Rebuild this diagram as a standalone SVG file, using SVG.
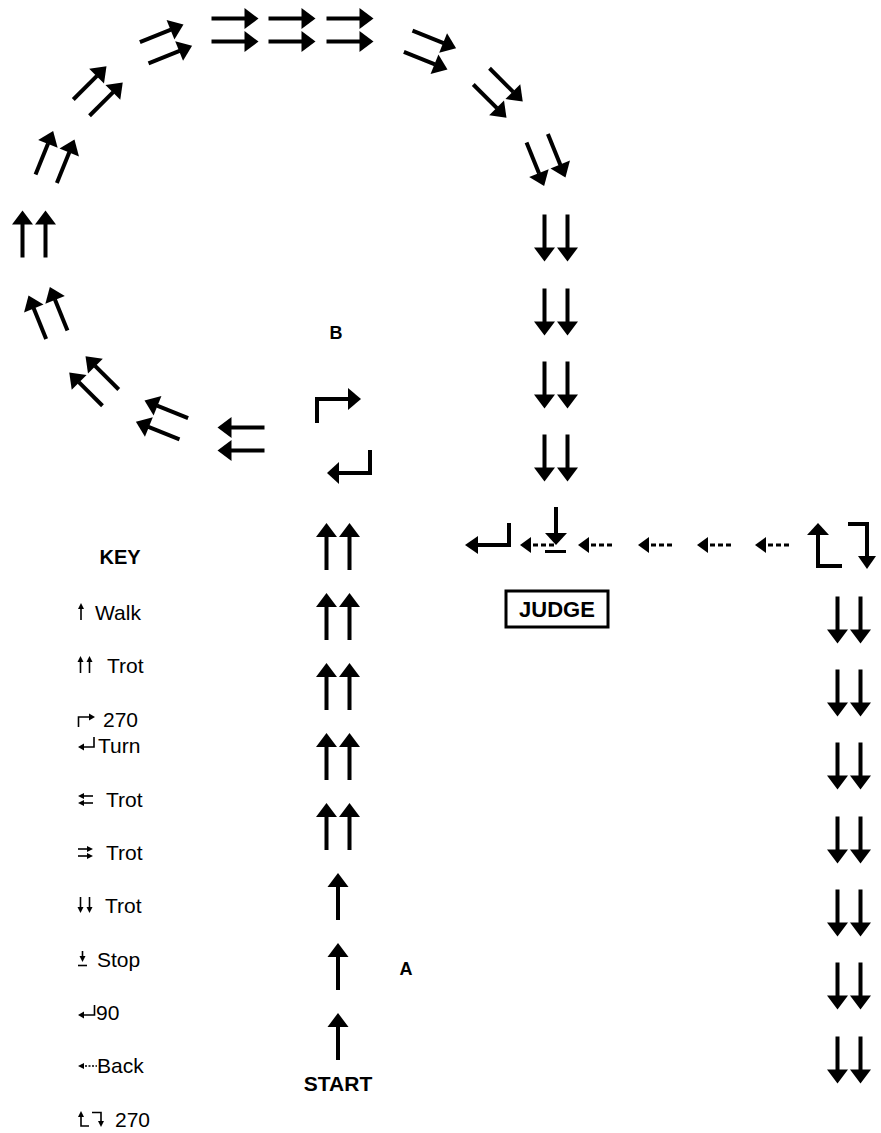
<svg xmlns="http://www.w3.org/2000/svg" xmlns:xlink="http://www.w3.org/1999/xlink" width="881" height="1133" viewBox="0 0 881 1133">
<style>
.lbl{font-family:"Liberation Sans",Arial,sans-serif;font-weight:bold;fill:#000}
.key{font-family:"Liberation Sans",Arial,sans-serif;font-size:21px;fill:#000}
.ln{stroke:#000;stroke-width:4;fill:none}
.thin{stroke:#000;stroke-width:1.6;fill:none}
.hd{fill:#000}
.dash{stroke:#000;stroke-width:3;stroke-dasharray:5 3;fill:none}
.tdash{stroke:#000;stroke-width:1.3;stroke-dasharray:2 1.5;fill:none}
</style>
<defs>
<g id="a1"><rect x="-2" y="-10" width="4" height="33.5"/><polygon points="0,-23.5 -10.5,-9.5 10.5,-9.5"/></g>
<g id="a2"><use href="#a1" x="-11.5"/><use href="#a1" x="11.5"/></g>
<g id="back"><polygon points="0,0 11,-8 11,8"/><line x1="13" y1="0" x2="36" y2="0" class="dash"/></g>
</defs>
<rect width="881" height="1133" fill="#fff"/>

<g id="arc">
<use href="#a2" transform="translate(241,439) rotate(-90)"/>
<use href="#a2" transform="translate(162,420) rotate(-68)"/>
<use href="#a2" transform="translate(94,381) rotate(-45)"/>
<use href="#a2" transform="translate(48,313) rotate(-22)"/>
<use href="#a2" transform="translate(34,234)"/>
<use href="#a2" transform="translate(55,157) rotate(22)"/>
<use href="#a2" transform="translate(98,91) rotate(45)"/>
<use href="#a2" transform="translate(166,44) rotate(68)"/>
<use href="#a2" transform="translate(235,30) rotate(90)"/>
<use href="#a2" transform="translate(292,30) rotate(90)"/>
<use href="#a2" transform="translate(350,30) rotate(90)"/>
<use href="#a2" transform="translate(430,50) rotate(112)"/>
<use href="#a2" transform="translate(498,93) rotate(135)"/>
<use href="#a2" transform="translate(546,160) rotate(158)"/>
<use href="#a2" transform="translate(556,238) rotate(180)"/>
<use href="#a2" transform="translate(556,312) rotate(180)"/>
<use href="#a2" transform="translate(556,385) rotate(180)"/>
<use href="#a2" transform="translate(556,458) rotate(180)"/>
</g>

<g id="main-column">
<use href="#a2" transform="translate(338,546.5)"/>
<use href="#a2" transform="translate(338,616.5)"/>
<use href="#a2" transform="translate(338,686.5)"/>
<use href="#a2" transform="translate(338,756.5)"/>
<use href="#a2" transform="translate(338,826.5)"/>
<use href="#a1" transform="translate(338,896.5)"/>
<use href="#a1" transform="translate(338,966.5)"/>
<use href="#a1" transform="translate(338,1036.5)"/>
</g>

<g id="right-column">
<use href="#a2" transform="translate(849,620) rotate(180)"/>
<use href="#a2" transform="translate(849,693) rotate(180)"/>
<use href="#a2" transform="translate(849,766) rotate(180)"/>
<use href="#a2" transform="translate(849,840) rotate(180)"/>
<use href="#a2" transform="translate(849,913) rotate(180)"/>
<use href="#a2" transform="translate(849,986) rotate(180)"/>
<use href="#a2" transform="translate(849,1060) rotate(180)"/>
</g>

<g id="turn-b">
<path class="ln" d="M317,423 V399 H349"/>
<polygon class="hd" points="361,399 348,388 348,410"/>
<path class="ln" d="M370,450 V473 H339"/>
<polygon class="hd" points="327,473 339,462 339,484"/>
</g>

<g id="back-line">
<path class="ln" d="M509,523 V545 H477"/>
<polygon class="hd" points="465,545 478,536 478,554"/>
<use href="#back" x="520" y="545"/>
<use href="#back" x="578" y="545"/>
<use href="#back" x="638" y="545"/>
<use href="#back" x="697" y="545"/>
<use href="#back" x="755" y="545"/>
</g>

<g id="stop">
<line class="ln" x1="556" y1="507" x2="556" y2="535"/>
<polygon class="hd" points="545,533 567,533 556,545"/>
<line x1="545" y1="551.5" x2="566" y2="551.5" stroke="#000" stroke-width="3"/>
</g>

<g id="turn-right">
<polygon class="hd" points="818,523 807,535 829,535"/>
<path class="ln" d="M818,534 V566 H842"/>
<path class="ln" d="M848,524 H867 V557"/>
<polygon class="hd" points="858,556 876,556 867,569"/>
</g>

<g id="judge">
<rect x="506" y="591" width="102" height="36" fill="none" stroke="#000" stroke-width="3"/>
<text class="lbl" x="557" y="617" font-size="22" text-anchor="middle">JUDGE</text>
</g>

<g id="label-b"><text class="lbl" x="336" y="339" font-size="18" text-anchor="middle">B</text></g>
<g id="label-a"><text class="lbl" x="406" y="975" font-size="18" text-anchor="middle">A</text></g>
<g id="label-start"><text class="lbl" x="338" y="1091" font-size="21" text-anchor="middle">START</text></g>

<g id="key">
<text class="lbl" x="120" y="564" font-size="20" text-anchor="middle">KEY</text>
<line class="thin" x1="81" y1="608" x2="81" y2="620"/><polygon points="81,603 78,609 84,609"/>
<text class="key" x="95" y="620">Walk</text>
<line class="thin" x1="80.5" y1="661" x2="80.5" y2="673"/><polygon points="80.5,656 77.5,662 83.5,662"/>
<line class="thin" x1="89.5" y1="661" x2="89.5" y2="673"/><polygon points="89.5,656 86.5,662 92.5,662"/>
<text class="key" x="107" y="673">Trot</text>
<path class="thin" d="M78.5,727 V717 H90"/><polygon points="95,717 89,713.5 89,720.5"/>
<text class="key" x="103" y="727">270</text>
<path class="thin" d="M94,737 V747 H83"/><polygon points="78,747 84,743.5 84,750.5"/>
<text class="key" x="98" y="753">Turn</text>
<line class="thin" x1="83" y1="796" x2="93" y2="796"/><polygon points="78,796 84,793 84,799"/>
<line class="thin" x1="83" y1="803" x2="93" y2="803"/><polygon points="78,803 84,800 84,806"/>
<text class="key" x="106" y="807">Trot</text>
<line class="thin" x1="78" y1="849" x2="88" y2="849"/><polygon points="93,849 87,846 87,852"/>
<line class="thin" x1="78" y1="856" x2="88" y2="856"/><polygon points="93,856 87,853 87,859"/>
<text class="key" x="106" y="860">Trot</text>
<line class="thin" x1="80.5" y1="897" x2="80.5" y2="908"/><polygon points="80.5,913 77.5,907 83.5,907"/>
<line class="thin" x1="89.5" y1="897" x2="89.5" y2="908"/><polygon points="89.5,913 86.5,907 92.5,907"/>
<text class="key" x="105" y="913">Trot</text>
<line class="thin" x1="82.5" y1="951" x2="82.5" y2="957"/><polygon points="82.5,962 79.5,956 85.5,956"/>
<line class="thin" x1="78" y1="965.5" x2="87" y2="965.5"/>
<text class="key" x="97" y="967">Stop</text>
<path class="thin" d="M94.5,1005 V1015 H83"/><polygon points="78,1015 84,1011.5 84,1018.5"/>
<text class="key" x="96" y="1020">90</text>
<polygon points="78,1066 84,1063 84,1069"/><line class="tdash" x1="85" y1="1066" x2="97" y2="1066"/>
<text class="key" x="97" y="1073">Back</text>
<path class="thin" d="M81,1116 V1126 H89"/><polygon points="81,1111 78,1117 84,1117"/>
<path class="thin" d="M92,1112.5 H101 V1121"/><polygon points="101,1127 98,1121 104,1121"/>
<text class="key" x="115" y="1127">270</text>
</g>
</svg>
